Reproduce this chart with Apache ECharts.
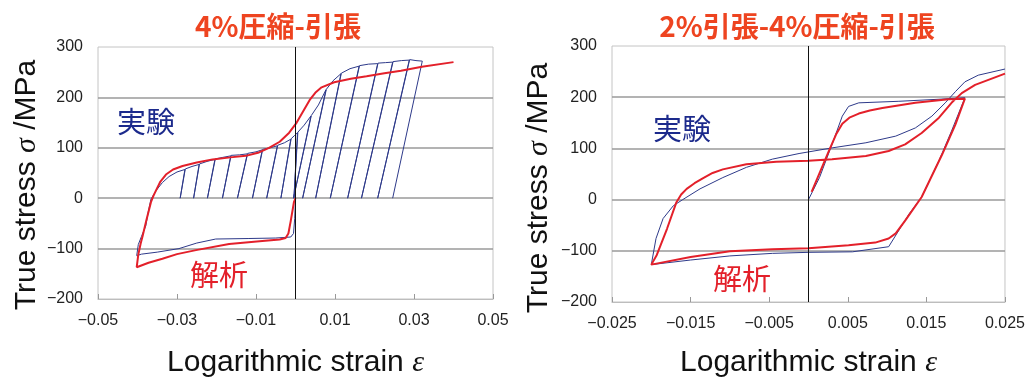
<!DOCTYPE html>
<html>
<head>
<meta charset="utf-8">
<script src="https://cdn.jsdelivr.net/npm/echarts@6/dist/echarts.min.js"></script>
<style>
html,body{margin:0;padding:0;background:#fff;}
#chart{width:1028px;height:383px;}
</style>
</head>
<body>
<div id="chart"></div>
<script>
// ---- tick values ----
const yTicks = [-200, -100, 0, 100, 200, 300];
const xTicksLeft = [-0.05, -0.03, -0.01, 0.01, 0.03, 0.05];
const xTicksRight = [-0.025, -0.015, -0.005, 0.005, 0.015, 0.025];

// ---- titles / labels ----
const titleLeft = '4%圧縮-引張';
const titleRight = '2%引張-4%圧縮-引張';
const yName = '{a|True stress }{i|σ}{a| /MPa}';
const xName = '{a|Logarithmic strain }{i|ε}';
const expLabel = '実験';
const simLabel = '解析';

// ---- Left panel: experiment (strain, stress) ----
const leftExp = [
  [0,0],[-0.0002,-40],[-0.0005,-70],[-0.0012,-77],[-0.005,-79],[-0.012,-80],[-0.0202,-81],
  [-0.025,-89],[-0.0295,-100],[-0.035,-107],[-0.039,-111],[-0.0402,-114],
  [-0.0398,-92],[-0.039,-76],[-0.0379,-55],[-0.0373,-28],[-0.0366,-2],[-0.0352,16],[-0.0337,31],[-0.032,43],[-0.0300,52],[-0.0280,57],
  [-0.0292,0],[-0.0279,58],[-0.0262,63],[-0.0244,67],
  [-0.0258,0],[-0.0243,68],[-0.0224,73],[-0.0204,77],
  [-0.0223,0],[-0.0203,78],[-0.0184,81],[-0.0164,84],
  [-0.0185,0],[-0.0163,85],[-0.0142,86],[-0.0122,88],
  [-0.0147,0],[-0.0121,89],[-0.0100,92],[-0.0084,96],
  [-0.0109,0],[-0.0083,97],[-0.0064,100],[-0.0046,104],
  [-0.0073,0],[-0.0045,105],[-0.0028,110],[-0.0012,117],
  [-0.0037,0],[-0.0011,118],[-0.0003,124],[0.0005,130],
  [-0.0004,0],[0.0006,131],[0.0022,145],[0.0039,163],
  [-0.0005,0],[0.0040,164],[0.0058,185],[0.0077,215],
  [0.0018,0],[0.0078,216],[0.0095,233],[0.0115,247],
  [0.0051,0],[0.0116,248],[0.0138,257],[0.0161,262],
  [0.0088,0],[0.0162,263],[0.0185,266],[0.0208,267],
  [0.0132,0],[0.0209,268],[0.0228,269],[0.0246,270],
  [0.0167,0],[0.0247,271],[0.0268,273],[0.0288,274],
  [0.0208,0],[0.0289,275],[0.0305,273],[0.0321,272],
  [0.0246,0]
];

// ---- Left panel: analysis ----
const leftSim = [
  [0,0],[-0.0004,-8],[-0.0012,-45],[-0.0018,-70],[-0.0025,-79],[-0.004,-82],[-0.0084,-85],
  [-0.0168,-91],[-0.0252,-103],[-0.030,-111],[-0.0337,-120],[-0.0372,-128],[-0.0402,-137],
  [-0.0398,-112],[-0.0392,-90],[-0.0387,-75],[-0.0378,-45],[-0.0366,-8],[-0.0360,4],[-0.0354,14],
  [-0.0342,33],[-0.0328,47],[-0.0310,57],[-0.0286,64],[-0.025,71],[-0.021,77],[-0.0165,81],
  [-0.0126,84],[-0.0095,90],[-0.0067,100],[-0.0040,112],[-0.0016,130],[0.0003,150],
  [0.0022,176],[0.0036,195],[0.0050,209],[0.0066,220],[0.0098,230],[0.014,237],
  [0.018,242],[0.0225,248],[0.0267,253],[0.032,261],[0.040,270]
];

// ---- Right panel: experiment ----
const rightExp = [
  [0,0],[0.0014,43],[0.0030,108],[0.0043,163],[0.0051,182],[0.0064,189],[0.0115,192],
  [0.0166,196],[0.0199,199],
  [0.0182,134],[0.0166,76],[0.0144,5],[0.0128,-28],[0.0102,-92],
  [0.0056,-102],[0,-103],[-0.0046,-105],[-0.010,-110],[-0.015,-118],[-0.0200,-127],
  [-0.0194,-76],[-0.0185,-37],[-0.0172,-12],[-0.0160,0],[-0.0138,21],[-0.0109,43],
  [-0.0079,63],[-0.0046,79],[-0.0012,90],[0.003,101],[0.0073,111],[0.0111,124],
  [0.0136,140],[0.0157,163],[0.0174,189],[0.0187,211],[0.0199,230],[0.0216,243],[0.025,255]
];

// ---- Right panel: analysis ----
const rightSim = [
  [0.0004,15],[0.0015,55],[0.0026,95],[0.0035,127],[0.0043,148],[0.0052,160],[0.0064,168],
  [0.0078,174],[0.0094,179],[0.0136,189],[0.0178,196],[0.0199,197],
  [0.0187,147],[0.0170,88],[0.0144,5],[0.0123,-41],[0.0111,-66],[0.0102,-76],[0.0085,-84],
  [0.0051,-89],[0,-95],[-0.0046,-97],[-0.010,-101],[-0.015,-112],[-0.0200,-127],
  [-0.0193,-108],[-0.0180,-57],[-0.0168,-5],[-0.0162,10],[-0.0155,21],[-0.0145,32],
  [-0.0134,42],[-0.0122,52],[-0.0109,59],[-0.0079,69],[-0.0041,74],[0,76],[0.003,79],
  [0.0073,85],[0.0102,95],[0.0123,108],[0.0144,130],[0.0166,160],[0.0182,189],
  [0.0195,208],[0.0212,224],[0.025,246]
];

// ---- styles ----
const FONT = 'Liberation Sans, Arial, sans-serif';
const CJK = '"Noto Sans CJK JP", sans-serif';
const BLUE = '#2e3a8a';
const RED = '#e3202a';
const NAVY = '#1c2a8c';
const TITLE_RED = '#ee4420';

const fmt = v => String(+Number(v).toFixed(4)).replace('-', '\u2212');

const nameRich = {
  a: { fontFamily: FONT, fontSize: 30, color: '#111' },
  i: { fontFamily: 'Liberation Serif, serif', fontStyle: 'italic', fontSize: 30, color: '#111' }
};

function xAxisCfg(grid, ticks, gap) {
  return {
    type: 'value', gridIndex: grid,
    min: ticks[0], max: ticks[ticks.length - 1],
    interval: ticks[1] - ticks[0],
    name: xName, nameLocation: 'middle', nameGap: gap,
    nameTextStyle: { fontFamily: FONT, fontSize: 30, color: '#111', rich: nameRich },
    axisLine: { onZero: false, lineStyle: { color: '#bdbdbd', width: 1 } },
    axisTick: { inside: true, length: 5, lineStyle: { color: '#999' } },
    axisLabel: { formatter: fmt, fontFamily: FONT, fontSize: 16, color: '#222', margin: 14 },
    splitLine: { show: false }
  };
}
function yAxisCfg(grid, gap, shift) {
  return {
    type: 'value', gridIndex: grid,
    min: yTicks[0], max: yTicks[yTicks.length - 1],
    interval: yTicks[1] - yTicks[0],
    name: yName, nameLocation: 'middle', nameGap: gap, nameRotate: 90,
    nameTextStyle: { fontFamily: FONT, fontSize: 30, color: '#111', rich: nameRich,
                     padding: [0, shift, 0, 0] },
    axisLine: { show: false },
    axisTick: { show: false },
    axisLabel: { formatter: fmt, fontFamily: FONT, fontSize: 16, color: '#222', margin: 15 },
    splitLine: { show: true, showMinLine: false, showMaxLine: false,
                 lineStyle: { color: '#9a9a9a', width: 1.5 } }
  };
}
function zeroLine() {
  return {
    silent: true, symbol: ['none', 'none'], animation: false,
    label: { show: false },
    lineStyle: { color: '#111', width: 1, type: 'solid' },
    data: [{ xAxis: 0 }]
  };
}

const chart = echarts.init(document.getElementById('chart'), null, { renderer: 'canvas' });
chart.setOption({
  animation: false,
  backgroundColor: '#fff',
  title: [
    { text: titleLeft, left: 273, top: 7, textAlign: 'center',
      textStyle: { fontFamily: CJK, fontWeight: 'bold', fontSize: 28, color: TITLE_RED } },
    { text: titleRight, left: 792, top: 7, textAlign: 'center',
      textStyle: { fontFamily: CJK, fontWeight: 'bold', fontSize: 28, color: TITLE_RED } }
  ],
  grid: [
    { left: 98, top: 47, width: 395, height: 252, show: true, borderColor: '#c4c4c4', borderWidth: 1, containLabel: false },
    { left: 612, top: 46, width: 395, height: 258, show: true, borderColor: '#c4c4c4', borderWidth: 1, containLabel: false }
  ],
  xAxis: [ xAxisCfg(0, xTicksLeft, 49), xAxisCfg(1, xTicksRight, 46) ],
  yAxis: [ yAxisCfg(0, 56, 24), yAxisCfg(1, 58, 28) ],
  series: [
    { name: expLabel + 'L', type: 'line', xAxisIndex: 0, yAxisIndex: 0, data: leftExp,
      showSymbol: false, symbol: 'none', lineStyle: { color: BLUE, width: 1 }, z: 3,
      markLine: zeroLine() },
    { name: simLabel + 'L', type: 'line', xAxisIndex: 0, yAxisIndex: 0, data: leftSim,
      showSymbol: false, symbol: 'none', lineStyle: { color: RED, width: 2 }, z: 4 },
    { name: expLabel + 'R', type: 'line', xAxisIndex: 1, yAxisIndex: 1, data: rightExp,
      showSymbol: false, symbol: 'none', lineStyle: { color: BLUE, width: 1 }, z: 3,
      markLine: zeroLine() },
    { name: simLabel + 'R', type: 'line', xAxisIndex: 1, yAxisIndex: 1, data: rightSim,
      showSymbol: false, symbol: 'none', lineStyle: { color: RED, width: 2 }, z: 4 }
  ],
  graphic: [
    { type: 'text', left: 117, top: 107, style: { text: expLabel, font: '29px "Noto Sans CJK JP"', fill: NAVY } },
    { type: 'text', left: 190, top: 260, style: { text: simLabel, font: '29px "Noto Sans CJK JP"', fill: RED } },
    { type: 'text', left: 653, top: 114, style: { text: expLabel, font: '29px "Noto Sans CJK JP"', fill: NAVY } },
    { type: 'text', left: 713, top: 264, style: { text: simLabel, font: '29px "Noto Sans CJK JP"', fill: RED } }
  ]
});
</script>
</body>
</html>
